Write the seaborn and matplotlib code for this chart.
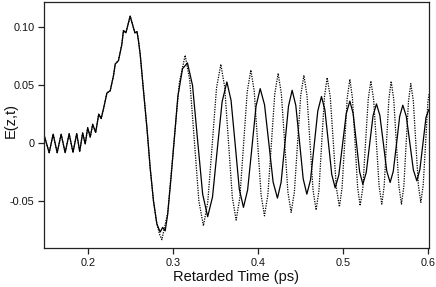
import matplotlib
matplotlib.use("Agg")
import matplotlib.pyplot as plt
import seaborn as sns
import pandas as pd

# ---- data (time in ps, field in arb. units) ----
t_common = [0.1482, 0.1541, 0.1588, 0.1635, 0.1682, 0.1729, 0.1776, 0.1821, 0.1865, 0.1900,
            0.1935, 0.1965, 0.1994, 0.2024, 0.2053, 0.2088, 0.2124, 0.2153, 0.2182, 0.2220,
            0.2259, 0.2298, 0.2318, 0.2356, 0.2396, 0.2415, 0.2444, 0.2494, 0.2530, 0.2550,
            0.2575, 0.2592, 0.2612, 0.2651, 0.2691, 0.2729, 0.2768, 0.2808]
v_common = [0.0065, -0.0085, 0.0075, -0.0085, 0.0075, -0.0085, 0.0078, -0.0082, 0.0080, -0.0075,
            0.0085, -0.0010, 0.0130, 0.0050, 0.0160, 0.0090, 0.0247, 0.0210, 0.0300, 0.0430,
            0.0450, 0.0580, 0.0680, 0.0710, 0.0850, 0.0970, 0.0950, 0.1095, 0.1000, 0.0950,
            0.0960, 0.0880, 0.0764, 0.0448, 0.0132, -0.0213, -0.0500, -0.0700]

t_dotted_tail = [0.2840, 0.2867, 0.2936, 0.3004, 0.3073, 0.3141,
                 0.3195, 0.3249, 0.3302, 0.3356, 0.3407, 0.3459, 0.3510, 0.3561,
                 0.3606, 0.3651, 0.3696, 0.3741, 0.3784, 0.3828, 0.3871, 0.3914,
                 0.3954, 0.3994, 0.4034, 0.4074, 0.4114, 0.4155, 0.4195, 0.4235,
                 0.4273, 0.4312, 0.4350, 0.4388, 0.4426, 0.4463, 0.4501, 0.4538,
                 0.4574, 0.4610, 0.4646, 0.4682, 0.4715, 0.4747, 0.4780, 0.4812,
                 0.4848, 0.4884, 0.4920, 0.4956, 0.4987, 0.5018, 0.5048, 0.5079,
                 0.5109, 0.5140, 0.5170, 0.5200, 0.5232, 0.5263, 0.5295, 0.5326,
                 0.5358, 0.5391, 0.5423, 0.5455, 0.5483, 0.5510, 0.5538, 0.5565,
                 0.5595, 0.5626, 0.5656, 0.5686, 0.5714, 0.5741, 0.5769, 0.5796,
                 0.5826, 0.5855, 0.5885, 0.5914, 0.5942, 0.5970, 0.5997, 0.6010]
v_dotted_tail = [-0.0790, -0.0836, -0.0603, -0.0040, 0.0523, 0.0756,
                 0.0540, 0.0020, -0.0500, -0.0716, -0.0512, -0.0019, 0.0474, 0.0678,
                 0.0482, 0.0006, -0.0470, -0.0667, -0.0477, -0.0019, 0.0439, 0.0629,
                 0.0445, 0.0000, -0.0445, -0.0630, -0.0450, -0.0015, 0.0420, 0.0600,
                 0.0424, 0.0000, -0.0424, -0.0600, -0.0427, -0.0009, 0.0409, 0.0583,
                 0.0413, 0.0002, -0.0409, -0.0580, -0.0413, -0.0009, 0.0395, 0.0563,
                 0.0400, 0.0006, -0.0388, -0.0552, -0.0391, -0.0002, 0.0387, 0.0549,
                 0.0389, 0.0003, -0.0383, -0.0543, -0.0385, -0.0005, 0.0375, 0.0534,
                 0.0378, 0.0003, -0.0372, -0.0529, -0.0373, 0.0002, 0.0377, 0.0532,
                 0.0377, 0.0002, -0.0373, -0.0529, -0.0377, -0.0009, 0.0359, 0.0511,
                 0.0361, -0.0002, -0.0365, -0.0514, -0.0365, -0.0007, 0.0351, 0.0420]

t_solid_tail = [0.2847, 0.2876, 0.2906, 0.2935, 0.2975, 0.3015, 0.3055, 0.3110, 0.3168,
                0.3228, 0.3287, 0.3347, 0.3406, 0.3463, 0.3519, 0.3576, 0.3632,
                0.3681, 0.3730, 0.3778, 0.3827, 0.3876, 0.3926, 0.3975, 0.4024,
                0.4075, 0.4126, 0.4176, 0.4227, 0.4270, 0.4314, 0.4357, 0.4400,
                0.4443, 0.4487, 0.4530, 0.4573, 0.4616, 0.4659, 0.4702, 0.4745,
                0.4785, 0.4826, 0.4866, 0.4906, 0.4949, 0.4993, 0.5036, 0.5079,
                0.5117, 0.5156, 0.5194, 0.5232, 0.5272, 0.5312, 0.5352, 0.5392,
                0.5432, 0.5473, 0.5513, 0.5553, 0.5590, 0.5628, 0.5665, 0.5702,
                0.5743, 0.5785, 0.5826, 0.5867, 0.5903, 0.5939, 0.5975, 0.6010]
v_solid_tail = [-0.0770, -0.0730, -0.0760, -0.0620, -0.0300, 0.0050, 0.0400, 0.0640, 0.0690,
                0.0495, 0.0026, -0.0443, -0.0638, -0.0467, -0.0056, 0.0355, 0.0526,
                0.0367, -0.0016, -0.0399, -0.0557, -0.0407, -0.0045, 0.0317, 0.0468,
                0.0329, -0.0005, -0.0339, -0.0477, -0.0341, -0.0012, 0.0317, 0.0454,
                0.0323, 0.0006, -0.0311, -0.0443, -0.0320, -0.0022, 0.0276, 0.0400,
                0.0285, 0.0006, -0.0273, -0.0388, -0.0278, -0.0014, 0.0250, 0.0360,
                0.0255, 0.0002, -0.0251, -0.0357, -0.0255, -0.0010, 0.0235, 0.0336,
                0.0237, -0.0003, -0.0243, -0.0342, -0.0245, -0.0009, 0.0227, 0.0325,
                0.0229, -0.0002, -0.0233, -0.0328, -0.0230, -0.0005, 0.0220, 0.0290]

x_ticks = [0.2, 0.3, 0.4, 0.5, 0.6]
x_tick_labels = ["0.2", "0.3", "0.4", "0.5", "0.6"]
y_ticks = [-0.05, 0.0, 0.05, 0.10]
y_tick_labels = ["-0.05", "0", "0.05", "0.10"]

# ---- build series ----
solid = pd.DataFrame({"t": t_common + t_solid_tail, "E": v_common + v_solid_tail})
dotted = pd.DataFrame({"t": t_common + t_dotted_tail, "E": v_common + v_dotted_tail})

sns.set_theme(style="white")
plt.rcParams['font.family'] = ['Liberation Sans', 'DejaVu Sans']

fig = plt.figure(figsize=(4.36, 2.87), dpi=100)
ax = fig.add_axes([0.1009, 0.1359, 0.8830, 0.8571])

sns.lineplot(data=dotted, x="t", y="E", ax=ax, color="black", linewidth=0.9,
             linestyle=(0, (1, 1)), estimator=None, sort=False)
sns.lineplot(data=solid, x="t", y="E", ax=ax, color="black", linewidth=0.9,
             estimator=None, sort=False)

ax.set_xlim(0.148, 0.601)
ax.set_ylim(-0.0908, 0.1216)
ax.set_xticks(x_ticks)
ax.set_xticklabels(x_tick_labels)
ax.set_yticks(y_ticks)
ax.set_yticklabels(y_tick_labels)
ax.tick_params(axis="both", direction="out", length=4, width=0.9, color="#222222",
               labelsize=7.8, pad=3, labelcolor="#111111")
ax.tick_params(bottom=True, left=True, top=False, right=False)
for s in ax.spines.values():
    s.set_visible(True)
    s.set_color("#222222")
    s.set_linewidth(0.9)

ax.set_xlabel("Retarded Time (ps)", fontsize=10.5, color="#111111", labelpad=2)
ax.set_ylabel("E(z,t)", fontsize=10.5, color="#111111")
ax.yaxis.set_label_coords(-0.068, 0.52)

fig.savefig("out.png", dpi=100)
